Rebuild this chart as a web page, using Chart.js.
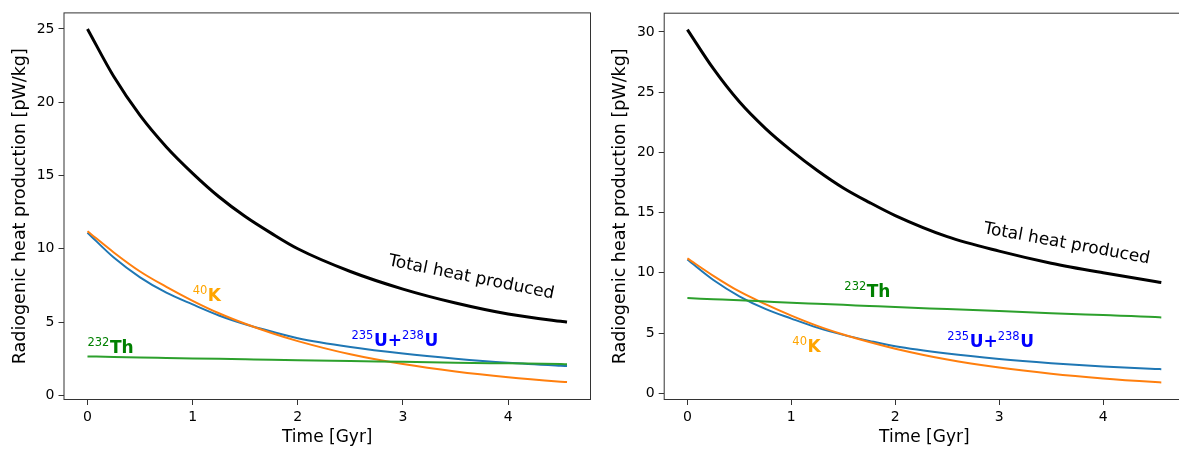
<!DOCTYPE html>
<html>
<head>
<meta charset="utf-8">
<script src="https://cdn.jsdelivr.net/npm/chart.js@4"></script>
<style>
  html, body { margin: 0; padding: 0; background: #fff; }
  body { width: 1179px; height: 452px; overflow: hidden; position: relative; }
  .panel { position: absolute; top: 0; height: 452px; }
  #leftPanel { left: 0; width: 600px; }
  #rightPanel { left: 600px; width: 590px; }
</style>
</head>
<body>
<div class="panel" id="leftPanel"><canvas id="leftChart"></canvas></div>
<div class="panel" id="rightPanel"><canvas id="rightChart"></canvas></div>
<script>
// --------------------------------------------------------------------
// Data (time in Gyr, heat in pW/kg)
// --------------------------------------------------------------------
const timeGyr = [0, 0.25, 0.5, 0.75, 1, 1.25, 1.5, 1.75, 2, 2.5, 3, 3.5, 4, 4.5, 4.56];

const uranium = [11.1, 9.4, 8.05, 7.0, 6.2, 5.45, 4.85, 4.35, 3.9, 3.3, 2.85, 2.5, 2.22, 2.02, 2.0];
const potassium = [11.2, 9.75, 8.45, 7.4, 6.45, 5.6, 4.88, 4.25, 3.7, 2.8, 2.13, 1.62, 1.23, 0.93, 0.9];

const thoriumLeft = [2.65, 2.62, 2.58, 2.55, 2.52, 2.49, 2.46, 2.43, 2.4, 2.34, 2.29, 2.23, 2.18, 2.13, 2.12];
const totalLeft = [25.0, 21.75, 19.1, 16.95, 15.15, 13.55, 12.2, 11.05, 10.0, 8.45, 7.25, 6.3, 5.55, 5.05, 5.0];

const thoriumRight = [7.9, 7.81, 7.72, 7.62, 7.52, 7.43, 7.34, 7.25, 7.16, 6.99, 6.82, 6.65, 6.49, 6.33, 6.3];
const totalRight = [30.2, 26.95, 24.2, 22.0, 20.15, 18.5, 17.05, 15.85, 14.75, 13.0, 11.8, 10.8, 10.0, 9.28, 9.2];

const xTicks = [0, 1, 2, 3, 4];
const yTicksLeft = [0, 5, 10, 15, 20, 25];
const yTicksRight = [0, 5, 10, 15, 20, 25, 30];

const xTitle = 'Time [Gyr]';
const yTitle = 'Radiogenic heat production [pW/kg]';

// --------------------------------------------------------------------
// Helpers
// --------------------------------------------------------------------
const FONT = "'DejaVu Sans', sans-serif";

function toPoints(ys) {
    return timeGyr.map((t, i) => ({ x: t, y: ys[i] }));
}

function line(data, color, width, order) {
    return {
        data: toPoints(data),
        borderColor: color,
        borderWidth: width,
        pointRadius: 0,
        showLine: true,
        fill: false,
        cubicInterpolationMode: 'monotone',
        order: order
    };
}

// box around the plot area + in-plot labels (positions in data units)
const framePlugin = {
    id: 'frame',
    afterDraw(chart) {
        const { ctx, chartArea: a, scales } = chart;
        ctx.save();
        ctx.strokeStyle = '#333';
        ctx.lineWidth = 1;
        ctx.strokeRect(a.left + 0.5, a.top + 0.5, a.right - a.left - 1, a.bottom - a.top - 1);

        const notes = chart.options.plugins.frame.notes || [];
        notes.forEach(n => {
            const px = scales.x.getPixelForValue(n.x);
            const py = scales.y.getPixelForValue(n.y);
            ctx.save();
            ctx.translate(px, py);
            if (n.rotate) ctx.rotate(n.rotate * Math.PI / 180);
            ctx.fillStyle = n.color;
            ctx.textBaseline = n.center ? 'middle' : 'alphabetic';
            if (n.center) {
                ctx.font = '17px ' + FONT;
                ctx.textAlign = 'center';
                ctx.fillText(n.text, 0, 0);
            } else {
                let cx = 0;
                ctx.textAlign = 'left';
                n.parts.forEach(p => {
                    ctx.font = p.sup ? '11.5px ' + FONT : 'bold 17px ' + FONT;
                    ctx.fillText(p.t, cx, p.sup ? -7 : 0);
                    cx += ctx.measureText(p.t).width + (p.sup ? 0.5 : 0);
                });
            }
            ctx.restore();
        });
        ctx.restore();
    }
};

function makeOptions(yMin, yMax, yTicks, yWidth, padTop, padRight, notes) {
    return {
        responsive: true,
        maintainAspectRatio: false,
        animation: false,
        layout: { padding: { left: 0, right: padRight, top: padTop, bottom: 0 } },
        plugins: {
            legend: { display: false },
            tooltip: { enabled: false },
            frame: { notes: notes }
        },
        scales: {
            x: {
                type: 'linear',
                min: -0.228,
                max: 4.788,
                afterFit: s => { s.height = 52; },
                afterBuildTicks: s => { s.ticks = xTicks.map(v => ({ value: v })); },
                grid: { drawOnChartArea: false, drawTicks: true, tickLength: 5, tickColor: '#333' },
                border: { display: false },
                ticks: { color: '#000', padding: 4, font: { family: FONT, size: 14 }, maxRotation: 0 },
                title: { display: true, text: xTitle, color: '#000', padding: { top: 0, bottom: 4 }, font: { family: FONT, size: 17 } }
            },
            y: {
                type: 'linear',
                min: yMin,
                max: yMax,
                afterFit: s => { s.width = yWidth; },
                afterBuildTicks: s => { s.ticks = yTicks.map(v => ({ value: v })); },
                grid: { drawOnChartArea: false, drawTicks: true, tickLength: 5, tickColor: '#333' },
                border: { display: false },
                ticks: { color: '#000', padding: 4, font: { family: FONT, size: 14 } },
                title: { display: true, text: yTitle, color: '#000', padding: { top: 10, bottom: 0 }, font: { family: FONT, size: 17.5 } }
            }
        }
    };
}

// --------------------------------------------------------------------
// Left panel
// --------------------------------------------------------------------
new Chart(document.getElementById('leftChart'), {
    type: 'scatter',
    plugins: [framePlugin],
    data: {
        datasets: [
            line(uranium, '#1f77b4', 2, 4),
            line(potassium, '#ff7f0e', 2, 3),
            line(thoriumLeft, '#2ca02c', 2, 2),
            line(totalLeft, '#000000', 3, 1)
        ]
    },
    options: makeOptions(-0.32, 26.13, yTicksLeft, 63.5, 7, 9, [
        { x: 3.65, y: 8.03, rotate: 11.4, center: true, color: '#000', text: 'Total heat produced' },
        { x: 1.0, y: 6.42, color: '#ffa500', parts: [{ t: '40', sup: true }, { t: 'K' }] },
        { x: 0.0, y: 2.9, color: '#008000', parts: [{ t: '232', sup: true }, { t: 'Th' }] },
        { x: 2.51, y: 3.39, color: '#0000ff', parts: [{ t: '235', sup: true }, { t: 'U+' }, { t: '238', sup: true }, { t: 'U' }] }
    ])
});

// --------------------------------------------------------------------
// Right panel
// --------------------------------------------------------------------
new Chart(document.getElementById('rightChart'), {
    type: 'scatter',
    plugins: [framePlugin],
    data: {
        datasets: [
            line(uranium, '#1f77b4', 2, 4),
            line(potassium, '#ff7f0e', 2, 3),
            line(thoriumRight, '#2ca02c', 2, 2),
            line(totalRight, '#000000', 3, 1)
        ]
    },
    options: makeOptions(-0.56, 31.6, yTicksRight, 63.7, 12.7, 5, [
        { x: 3.65, y: 12.4, rotate: 10.4, center: true, color: '#000', text: 'Total heat produced' },
        { x: 1.01, y: 3.45, color: '#ffa500', parts: [{ t: '40', sup: true }, { t: 'K' }] },
        { x: 1.51, y: 8.0, color: '#008000', parts: [{ t: '232', sup: true }, { t: 'Th' }] },
        { x: 2.5, y: 3.85, color: '#0000ff', parts: [{ t: '235', sup: true }, { t: 'U+' }, { t: '238', sup: true }, { t: 'U' }] }
    ])
});
</script>
</body>
</html>
